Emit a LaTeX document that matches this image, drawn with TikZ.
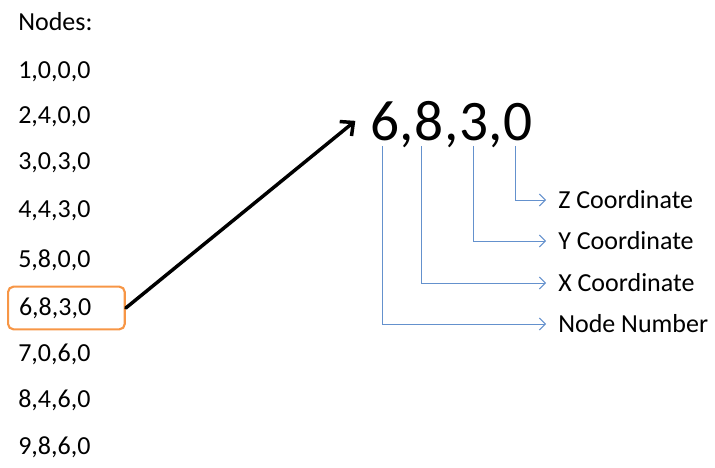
\documentclass[tikz,border=0pt]{standalone}
\usepackage{fontspec}
\setmainfont{Carlito}
\usetikzlibrary{arrows.meta}
\definecolor{hlorange}{RGB}{247,150,70}
\definecolor{linkblue}{RGB}{100,145,205}
\begin{document}
\begin{tikzpicture}[x=0.75pt,y=-0.75pt,
  rowtxt/.style={anchor=west,inner sep=0pt,font=\fontsize{19.5}{22}\selectfont},
  hlbox/.style={rowtxt,draw=hlorange,line width=1.6pt,rounded corners=4pt,
    inner xsep=8.25pt,inner ysep=0pt,minimum height=32pt,text width=71pt,align=left},
  bigdigit/.style={anchor=base west,inner sep=0pt,font=\fontsize{43}{48}\selectfont},
  lbl/.style={anchor=west,inner sep=0pt,font=\fontsize{19.5}{22}\selectfont},
  conn/.style={draw=linkblue,line width=0.75pt,-{Straight Barb[length=4.5pt,width=9pt]}},
  bigarrow/.style={draw=black,line width=2.6pt,line cap=round,-{Straight Barb[length=7.5pt,width=14pt]}}]
\useasboundingbox (0,0) rectangle (715,468);

% node list
\node[rowtxt] (hdr) at (18,22) {Nodes:};
\node[rowtxt] (n1) at (18,72) {1,0,0,0};
\node[rowtxt] (n2) at (18,117) {2,4,0,0};
\node[rowtxt] (n3) at (18,163) {3,0,3,0};
\node[rowtxt] (n4) at (18,211) {4,4,3,0};
\node[rowtxt] (n5) at (18,260) {5,8,0,0};
\node[hlbox]  (n6) at (7,308) {6,8,3,0};
\node[rowtxt] (n7) at (18,354) {7,0,6,0};
\node[rowtxt] (n8) at (18,400) {8,4,6,0};
\node[rowtxt] (n9) at (18,447) {9,8,6,0};

% enlarged entry, one node per character
\node[bigdigit] (d6) at (370,140) {6};
\node[bigdigit] (c1) at (d6.base east) {,};
\node[bigdigit] (d8) at (c1.base east) {8};
\node[bigdigit] (c2) at (d8.base east) {,};
\node[bigdigit] (d3) at (c2.base east) {3};
\node[bigdigit] (c3) at (d3.base east) {,};
\node[bigdigit] (d0) at (c3.base east) {0};

% field labels
\node[lbl] (lz) at (558,200) {Z Coordinate};
\node[lbl] (ly) at (558,241) {Y Coordinate};
\node[lbl] (lx) at (558,283) {X Coordinate};
\node[lbl] (ln) at (558,324) {Node Number};

% highlighted entry to its enlarged form
\draw[bigarrow] (n6.east) -- ([xshift=-11pt]d6.west);

% field connectors
\draw[conn] ([xshift=-2.25pt,yshift=-4pt]d0.south) |- ([xshift=-9pt]lz.west);
\draw[conn] ([yshift=-4pt]d3.south) |- ([xshift=-9pt]ly.west);
\draw[conn] ([xshift=-5.5pt,yshift=-4pt]d8.south) |- ([xshift=-9pt]lx.west);
\draw[conn] ([xshift=-1.5pt,yshift=-4pt]d6.south) |- ([xshift=-9pt]ln.west);
\end{tikzpicture}
\end{document}
